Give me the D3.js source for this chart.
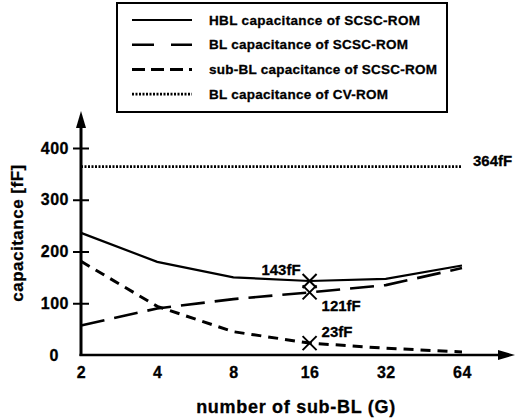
<!DOCTYPE html>
<html>
<head>
<meta charset="utf-8">
<script src="https://cdn.jsdelivr.net/npm/d3@7"></script>
<style>
  body { margin: 0; background: #fff; }
  svg text { font-family: "Liberation Sans", Arial, sans-serif; font-weight: bold; fill: #000;
    stroke: #000; stroke-width: 0.3px; }
</style>
</head>
<body>
<svg id="chart" width="516" height="419"></svg>
<script>
// data
var G = [2, 4, 8, 16, 32, 64]
var hbl = [236, 180, 150, 143, 147, 173]
var bl = [57, 90, 108, 121, 135, 168]
var subBl = [181, 94, 45, 23, 13, 6]
var cvRom = [364, 364, 364, 364, 364, 364]
var yTicks = [0, 100, 200, 300, 400]
var marks = [
  { g: 16, v: 143, label: '143fF' },
  { g: 16, v: 121, label: '121fF' },
  { g: 16, v: 23, label: '23fF' }
]
var legendNames = ['HBL capacitance of SCSC-ROM', 'BL capacitance of SCSC-ROM',
  'sub-BL capacitance of SCSC-ROM', 'BL capacitance of CV-ROM']

var svg = d3.select('#chart')

var x = d3.scaleLog().base(2).domain([2, 64]).range([81, 462])
var y = d3.scaleLinear().domain([0, 400]).range([355, 148])

// series styles
var series = [
  { values: hbl, dash: null, width: 2.2 },
  { values: bl, dash: '24,10', width: 2.6 },
  { values: subBl, dash: '10,7', width: 3 },
  { values: cvRom, dash: '2,1.5', width: 2.6 }
]

var line = d3.line()
  .x(function (d, i) { return x(G[i]) })
  .y(function (d) { return y(d) })

series.forEach(function (s) {
  svg.append('path')
    .datum(s.values)
    .attr('fill', 'none')
    .attr('stroke', '#000')
    .attr('stroke-width', s.width)
    .attr('stroke-dasharray', s.dash)
    .attr('d', line)
})

// y axis with ticks crossing the line
var yAxis = svg.append('g')
  .attr('transform', 'translate(' + x(2) + ',0)')
  .call(d3.axisLeft(y).tickValues(yTicks).tickSize(8).tickPadding(5))
yAxis.select('.domain').remove()
yAxis.selectAll('.tick line').attr('x1', 8).attr('stroke-width', 2)
yAxis.selectAll('.tick text').style('font-size', '16px').style('letter-spacing', '0.5px')
  .attr('x', function (d) { return d === 0 ? -22 : -12 })
yAxis.selectAll('.tick').filter(function (d) { return d === 0 }).select('line').remove()

svg.append('line')
  .attr('x1', x(2)).attr('x2', x(2))
  .attr('y1', y(0) + 1).attr('y2', 124)
  .attr('stroke', '#000').attr('stroke-width', 3)
svg.append('path')
  .attr('d', 'M' + x(2) + ',111 L' + (x(2) - 5) + ',128 L' + (x(2) + 5) + ',128 Z')
  .attr('fill', '#000')

// x axis
var xAxis = svg.append('g')
  .attr('transform', 'translate(0,' + y(0) + ')')
  .call(d3.axisBottom(x).tickValues(G).tickFormat(d3.format('d')).tickSize(0).tickPadding(12))
xAxis.select('.domain').remove()
xAxis.selectAll('.tick text').style('font-size', '16px').style('letter-spacing', '0.5px')

svg.append('line')
  .attr('x1', x(2) - 1.5).attr('x2', 502)
  .attr('y1', y(0)).attr('y2', y(0))
  .attr('stroke', '#000').attr('stroke-width', 2.5)
svg.append('path')
  .attr('d', 'M515,' + y(0) + ' L498,' + (y(0) - 5) + ' L498,' + (y(0) + 5) + ' Z')
  .attr('fill', '#000')

// axis titles
svg.append('text')
  .attr('x', 296).attr('y', 413)
  .attr('text-anchor', 'middle')
  .style('font-size', '18px').style('letter-spacing', '0.7px')
  .text('number of sub-BL (G)')
svg.append('text')
  .attr('transform', 'translate(23,233) rotate(-90)')
  .attr('text-anchor', 'middle')
  .style('font-size', '17px').style('letter-spacing', '0.5px')
  .text('capacitance [fF]')

// crosses at G = 16
marks.forEach(function (m) {
  var cx = x(m.g), cy = y(m.v)
  svg.append('path')
    .attr('d', 'M' + (cx - 7) + ',' + (cy - 7) + 'L' + (cx + 7) + ',' + (cy + 7) +
      'M' + (cx - 7) + ',' + (cy + 7) + 'L' + (cx + 7) + ',' + (cy - 7))
    .attr('stroke', '#000').attr('stroke-width', 2)
})

svg.append('text').attr('x', x(16) - 9).attr('y', y(143) - 6)
  .attr('text-anchor', 'end').style('font-size', '15px').text(marks[0].label)
svg.append('text').attr('x', x(16) + 12).attr('y', y(121) + 19)
  .style('font-size', '15px').text(marks[1].label)
svg.append('text').attr('x', x(16) + 12).attr('y', y(23) - 6)
  .style('font-size', '15px').text(marks[2].label)
svg.append('text').attr('x', 473).attr('y', y(364) - 1)
  .style('font-size', '15px').text('364fF')

// legend
var legend = svg.append('g')
legend.append('rect')
  .attr('x', 117).attr('y', 3).attr('width', 330).attr('height', 109)
  .attr('fill', '#fff').attr('stroke', '#000').attr('stroke-width', 2)

var legendDash = [null, '22,17', '13,6', '2,1.5']
var legendTextLen = [211, 199, 228, 179]
legendNames.forEach(function (name, i) {
  var ly = 20 + i * 24.7
  legend.append('line')
    .attr('x1', 132).attr('x2', 192)
    .attr('y1', ly).attr('y2', ly)
    .attr('stroke', '#000')
    .attr('stroke-width', series[i].width)
    .attr('stroke-dasharray', legendDash[i])
  legend.append('text')
    .attr('x', 209).attr('y', ly + 4.5)
    .attr('textLength', legendTextLen[i])
    .attr('lengthAdjust', 'spacing')
    .style('font-size', '13.5px')
    .text(name)
})
</script>
</body>
</html>
